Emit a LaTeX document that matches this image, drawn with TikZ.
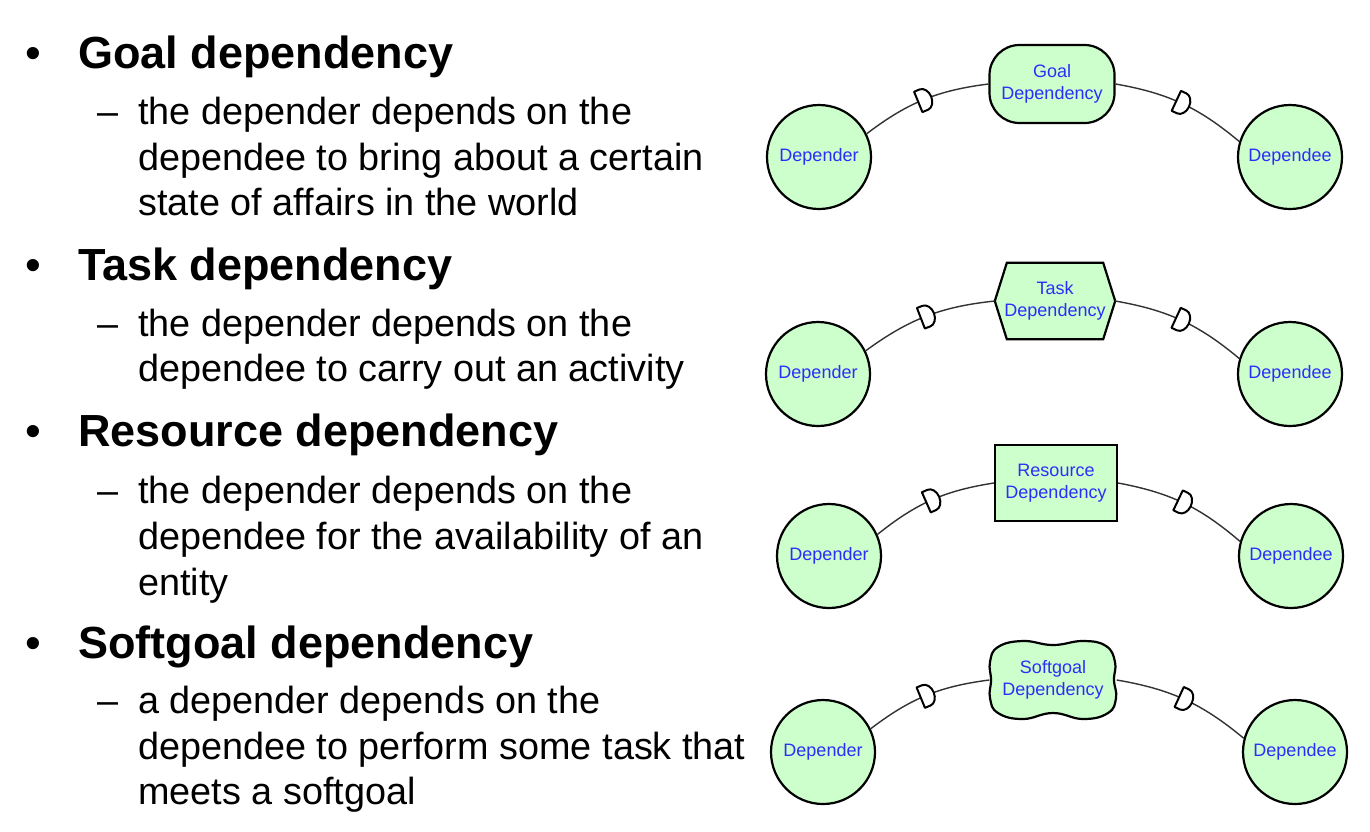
\documentclass[tikz,border=0pt]{standalone}
\usepackage{fontspec}
\setmainfont{Liberation Sans}
\usetikzlibrary{decorations.markings,backgrounds}

\definecolor{actorfill}{RGB}{204,255,204}
\definecolor{labelblue}{RGB}{45,45,250}
\definecolor{linkgray}{RGB}{50,50,50}

\newcommand\headfont{\fontsize{45}{54}\selectfont\bfseries}
\newcommand\bodyfont{\fontsize{37.8}{45}\selectfont}
\newcommand\elemfont{\fontsize{18}{22}\selectfont}

\tikzset{
  bulletmark/.style={anchor=base west, inner sep=0pt, font=\fontsize{45}{54}\selectfont},
  heading/.style={anchor=base west, inner sep=0pt, font=\headfont},
  dashmark/.style={anchor=base west, inner sep=0pt, font=\bodyfont},
  bodyline/.style={anchor=base west, inner sep=0pt, font=\bodyfont},
  actor/.style={circle, draw=black, line width=2.2pt, fill=actorfill,
    minimum size=104pt, inner sep=0pt, font=\elemfont, text=labelblue},
  elemtext/.style={align=center, font=\elemfont, text=labelblue, inner sep=0pt},
  elemline/.style={draw=black, line width=2.2pt, fill=actorfill},
  goalbox/.style={elemtext, elemline, rectangle, rounded corners=30pt,
    minimum width=125pt, minimum height=78pt},
  taskbox/.style={elemtext, rectangle, minimum width=120pt, minimum height=76pt},
  resbox/.style={elemtext, elemline, rectangle, minimum width=122pt, minimum height=76pt},
  softbox/.style={elemtext, rectangle, minimum width=127pt, minimum height=77pt},
  dlink/.style={draw=linkgray, line width=1.4pt,
    postaction={decorate, decoration={markings,
      mark=at position 0.5 with {
        \draw[black, line width=2pt, fill=white, line join=round]
          (-6,-11) -- (-6,11) -- (0,11)
          arc[start angle=90, end angle=-90, x radius=8, y radius=11] -- cycle;}}}},
}

\begin{document}
\begin{tikzpicture}[x=1pt, y=1pt]
\useasboundingbox (0,0) rectangle (1370,-831);
\begin{scope}[on background layer]
  \fill[white] (0,0) rectangle (1370,-831);
\end{scope}

% ---- text column ----
\node[bulletmark] (k1) at (25,-68) {•};
\node[heading] (h1) at (78,-68) {Goal dependency};
\node[dashmark] (m1) at (97,-124) {–};
\node[bodyline] (t1a) at (138,-124) {the depender depends on the};
\node[bodyline] (t1b) at (138,-170) {dependee to bring about a certain};
\node[bodyline] (t1c) at (138,-215) {state of affairs in the world};

\node[bulletmark] (k2) at (25,-280) {•};
\node[heading] (h2) at (78,-280) {Task dependency};
\node[dashmark] (m2) at (97,-336) {–};
\node[bodyline] (t2a) at (138,-336) {the depender depends on the};
\node[bodyline] (t2b) at (138,-381) {dependee to carry out an activity};

\node[bulletmark] (k3) at (25,-446) {•};
\node[heading] (h3) at (78,-446) {Resource dependency};
\node[dashmark] (m3) at (97,-503) {–};
\node[bodyline] (t3a) at (138,-503) {the depender depends on the};
\node[bodyline] (t3b) at (138,-549) {dependee for the availability of an};
\node[bodyline] (t3c) at (138,-595) {entity};

\node[bulletmark] (k4) at (25,-658) {•};
\node[heading] (h4) at (78,-658) {Softgoal dependency};
\node[dashmark] (m4) at (97,-713) {–};
\node[bodyline] (t4a) at (138,-713) {a depender depends on the};
\node[bodyline] (t4b) at (138,-759) {dependee to perform some task that};
\node[bodyline] (t4c) at (138,-804) {meets a softgoal};

% ---- goal dependency ----
\node[actor] (dr1) at (819,-157) {Depender};
\node[goalbox] (g1) at (1052,-84) {Goal\\Dependency};
\node[actor] (de1) at (1290,-157) {Dependee};
\draw[dlink] (dr1.26) to[bend left=15] (g1.west);
\draw[dlink] (g1.east) to[bend left=15] (de1.163);

% ---- task dependency ----
\node[actor] (dr2) at (818,-374) {Depender};
\node[taskbox] (tk2) at (1055,-301) {Task\\Dependency};
\node[actor] (de2) at (1290,-374) {Dependee};
\begin{scope}[on background layer]
  \draw[elemline, line join=miter]
    ([xshift=12pt]tk2.north west) -- ([xshift=-12pt]tk2.north east) -- (tk2.east)
    -- ([xshift=-12pt]tk2.south east) -- ([xshift=12pt]tk2.south west) -- (tk2.west) -- cycle;
\end{scope}
\draw[dlink] (dr2.26) to[bend left=15] (tk2.west);
\draw[dlink] (tk2.east) to[bend left=15] (de2.163);

% ---- resource dependency ----
\node[actor] (dr3) at (829,-556) {Depender};
\node[resbox] (rs3) at (1056,-483) {Resource\\Dependency};
\node[actor] (de3) at (1291,-556) {Dependee};
\draw[dlink] (dr3.24) to[bend left=15] (rs3.west);
\draw[dlink] (rs3.east) to[bend left=15] (de3.164);

% ---- softgoal dependency ----
\node[actor] (dr4) at (823,-752) {Depender};
\node[softbox] (sg4) at (1053,-680) {Softgoal\\Dependency};
\node[actor] (de4) at (1295,-752) {Dependee};
\begin{scope}[on background layer, shift={(sg4.center)}]
  \draw[elemline] plot[smooth cycle, tension=0.75] coordinates {
    (-30,39) (0,35) (30,39) (53,34) (62,18) (61,0) (63,-18) (55,-33)
    (30,-39) (0,-33) (-30,-39) (-55,-33) (-63,-18) (-62,0) (-63,18) (-55,33)};
\end{scope}
\draw[dlink] (dr4.26) to[bend left=15] (sg4.west);
\draw[dlink] (sg4.east) to[bend left=15] (de4.165);
\end{tikzpicture}
\end{document}
